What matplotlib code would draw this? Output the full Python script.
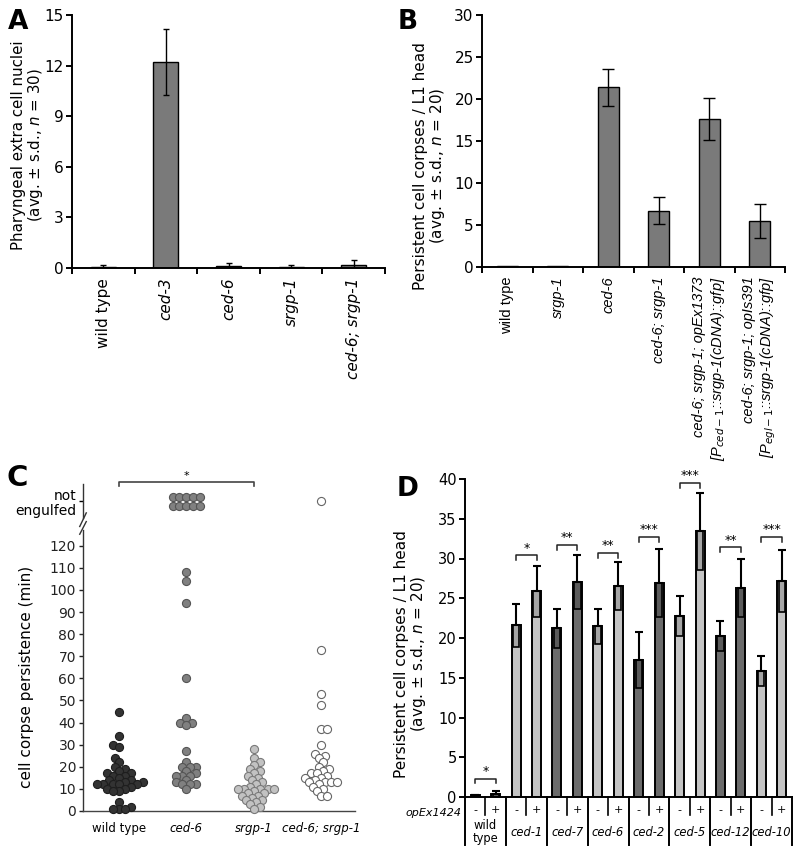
import matplotlib
matplotlib.use("Agg")
import matplotlib.pyplot as plt
import matplotlib.transforms as mtransforms
from matplotlib.patches import Rectangle
import numpy as np

W, H = 800, 856

# ---- panel A data
a_labels = ["wild type", "ced-3", "ced-6", "srgp-1", "ced-6; srgp-1"]
a_means = [0.05, 12.2, 0.1, 0.05, 0.17]
a_sd = [0.15, 1.95, 0.2, 0.15, 0.33]

# ---- panel B data
b_labels = ["wild type", "srgp-1", "ced-6", "ced-6; srgp-1",
            "ced-6; srgp-1; opEx1373\n[P$_{ced-1}$::srgp-1(cDNA)::gfp]",
            "ced-6; srgp-1; opIs391\n[P$_{egl-1}$::srgp-1(cDNA)::gfp]"]
b_means = [0.15, 0.15, 21.4, 6.7, 17.6, 5.5]
b_sd = [0.05, 0.05, 2.2, 1.6, 2.5, 2.0]

# ---- panel C data (minutes)
c_labels = ["wild type", "ced-6", "srgp-1", "ced-6; srgp-1"]
c_wt = [45, 34, 30, 29, 24, 22, 20, 19, 18, 17, 17, 16, 16, 15, 14, 14, 13, 13,
        12, 12, 12, 12, 12, 11, 10, 10, 9, 9, 4, 2, 1, 1, 1]
c_ced6 = [108, 104, 94, 60, 42, 40, 40, 39, 27, 22, 20, 20, 20, 18, 17, 16, 16,
          16, 14, 13, 12, 12, 12, 10]
c_srgp1 = [28, 24, 22, 21, 19, 18, 17, 16, 15, 14, 13, 12, 11, 10, 10, 10, 10,
           10, 9, 8, 8, 7, 7, 6, 5, 5, 4, 3, 2, 1]
c_double = [73, 53, 48, 37, 37, 30, 26, 25, 24, 22, 20, 19, 18, 17, 17, 16, 15,
            15, 14, 13, 13, 13, 13, 12, 11, 10, 9, 7, 7]
c_not_engulfed = [0, 10, 0, 1]
c_face = ["#333333", "#808080", "#c2c2c2", "white"]
c_edge = ["#1e1e1e", "#555555", "#7a7a7a", "#666666"]

# ---- panel D data
d_groups = ["wild\ntype", "ced-1", "ced-7", "ced-6", "ced-2", "ced-5", "ced-12", "ced-10"]
d_minus = [0.2, 21.6, 21.2, 21.5, 17.2, 22.8, 20.3, 15.8]
d_minus_sd = [0.1, 2.7, 2.5, 2.2, 3.5, 2.5, 1.9, 1.9]
d_plus = [0.4, 25.9, 27.0, 26.5, 26.9, 33.4, 26.3, 27.2]
d_plus_sd = [0.4, 3.2, 3.4, 3.0, 4.3, 4.8, 3.7, 3.9]
d_dark = [True, False, True, False, True, False, True, False]
d_sig = ["*", "*", "**", "**", "***", "***", "**", "***"]
d_sig_h = [2.3, 30.4, 31.7, 30.7, 32.7, 39.5, 31.4, 32.7]

LIGHT = "#c4c4c4"
DARK = "#6b6b6b"
BARGRAY = "#7a7a7a"


def rect(x0, y0, x1, y1):
    return [x0 / W, 1 - y1 / H, (x1 - x0) / W, (y1 - y0) / H]


def style_axes(ax, lw=1.4):
    for s in ["top", "right"]:
        ax.spines[s].set_visible(False)
    for s in ["left", "bottom"]:
        ax.spines[s].set_linewidth(lw)


fig = plt.figure(figsize=(8, 8.56), dpi=100)
fig.patch.set_facecolor("white")

# ================= A =================
axA = fig.add_axes(rect(72, 15, 385, 268))
style_axes(axA)
xa = np.arange(len(a_labels))
axA.bar(xa, a_means, width=0.4, color=BARGRAY, edgecolor="black", linewidth=1)
axA.errorbar(xa, a_means, yerr=a_sd, fmt="none", ecolor="black", elinewidth=1,
             capsize=2.5, capthick=1)
axA.set_xlim(-0.5, len(a_labels) - 0.5)
axA.set_ylim(0, 15)
axA.set_yticks(np.arange(0, 16, 3))
axA.set_xticks(np.arange(-0.5, len(a_labels), 1))
axA.set_xticklabels([])
axA.set_xticks(xa, minor=True)
axA.set_xticklabels(a_labels, minor=True, rotation=90, va="top", ha="center",
                    fontsize=11)
for i, t in enumerate(axA.get_xticklabels(minor=True)):
    if i > 0:
        t.set_fontstyle("italic")
axA.tick_params(axis="x", which="major", direction="out", length=4, width=1.4)
axA.tick_params(axis="x", which="minor", length=0, pad=7)
axA.tick_params(axis="y", direction="out", length=4, width=1.4, labelsize=11, pad=2)
fig.text(28 / W, 1 - 145 / H,
         "Pharyngeal extra cell nuclei\n(avg. ± s.d., $\\it{n}$ = 30)",
         rotation=90, ha="center", va="center", fontsize=10.8, ma="center",
         linespacing=1.05)

# ================= B =================
axB = fig.add_axes(rect(482, 15, 785, 267))
style_axes(axB)
xb = np.arange(len(b_labels))
axB.bar(xb, b_means, width=0.42, color=BARGRAY, edgecolor="black", linewidth=1)
axB.errorbar(xb[2:], b_means[2:], yerr=b_sd[2:], fmt="none", ecolor="black",
             elinewidth=1, capsize=4.5, capthick=1)
axB.set_xlim(-0.5, len(b_labels) - 0.5)
axB.set_ylim(0, 30)
axB.set_yticks(np.arange(0, 31, 5))
axB.set_xticks(np.arange(-0.5, len(b_labels), 1))
axB.set_xticklabels([])
axB.set_xticks(xb, minor=True)
axB.set_xticklabels(b_labels, minor=True, rotation=90, va="top", ha="center",
                    fontsize=10.5, family="Liberation Sans", multialignment="right")
for i, t in enumerate(axB.get_xticklabels(minor=True)):
    if i > 0:
        t.set_fontstyle("italic")
axB.tick_params(axis="x", which="major", direction="out", length=4, width=1.4)
axB.tick_params(axis="x", which="minor", length=0, pad=7)
axB.tick_params(axis="y", direction="out", length=4, width=1.4, labelsize=11, pad=2)
fig.text(430 / W, 1 - 166 / H,
         "Persistent cell corpses / L1 head\n(avg. ± s.d., $\\it{n}$ = 20)",
         rotation=90, ha="center", va="center", fontsize=11, ma="center",
         linespacing=1.05)

# ================= C =================
axC = fig.add_axes(rect(83, 530, 355, 811))
axCt = fig.add_axes(rect(83, 484, 355, 518))
c_top = 127.1
px_y = 281 / c_top
px_x = 272 / 4.03
diam = 8.0


def swarm_offsets(vals):
    vals = np.asarray(vals, dtype=float)
    order = np.argsort(vals)
    placed = []
    offs = np.zeros(len(vals))
    step = diam * 0.25
    for n, i in enumerate(order):
        y = vals[i] * px_y
        k = 0
        found = None
        while found is None:
            if k == 0:
                cands = [0.0]
            elif n % 2:
                cands = [k * step, -k * step]
            else:
                cands = [-k * step, k * step]
            for c in cands:
                if all((c - px) ** 2 + (y - py) ** 2 >= (0.62 * diam) ** 2
                       for px, py in placed):
                    found = c
                    break
            k += 1
        placed.append((found, y))
        offs[i] = found
    return offs / px_x


c_series = [c_wt, c_ced6, c_srgp1, c_double]
for g, vals in enumerate(c_series):
    off = swarm_offsets(vals)
    axC.scatter(g + off, vals, s=34, facecolor=c_face[g], edgecolor=c_edge[g],
                linewidth=0.8, zorder=3, clip_on=False)
    # not engulfed rows of five
    n = c_not_engulfed[g]
    if n == 1:
        axCt.scatter([g], [0.5], s=34, facecolor=c_face[g], edgecolor=c_edge[g],
                     linewidth=0.8, clip_on=False)
    elif n > 1:
        cols = np.arange(n) % 5
        rows = np.arange(n) // 5
        xs = g + (cols - 2) * diam * 0.85 / px_x
        ys = 0.62 - rows * 0.27
        axCt.scatter(xs, ys, s=34, facecolor=c_face[g], edgecolor=c_edge[g],
                     linewidth=0.8, clip_on=False)

for ax in (axC, axCt):
    ax.set_xlim(-0.53, 3.5)
    for s in ["top", "right"]:
        ax.spines[s].set_visible(False)
    ax.spines["left"].set_color("#333333")
    ax.spines["left"].set_linewidth(1.0)
axC.spines["bottom"].set_color("#444444")
axC.spines["bottom"].set_linewidth(1.0)
axCt.spines["bottom"].set_visible(False)
axC.set_ylim(0, c_top)
axC.set_yticks(np.arange(0, 121, 10))
axC.tick_params(axis="y", direction="out", length=3, width=1, labelsize=10,
                pad=2, colors="#222222")
axC.set_xticks(range(4))
axC.set_xticklabels(c_labels, fontsize=8.5)
for i, t in enumerate(axC.get_xticklabels()):
    if i > 0:
        t.set_fontstyle("italic")
axC.tick_params(axis="x", length=0, pad=8)
axCt.set_ylim(0, 1)
axCt.set_xticks([])
axCt.set_yticks([0.5])
axCt.set_yticklabels(["not\nengulfed"], fontsize=10, multialignment="right",
                     linespacing=1.1)
axCt.tick_params(axis="y", direction="out", length=3, width=1, pad=2)

# break marks
kw = dict(color="#333333", lw=1, clip_on=False)
axCt.plot([-0.012, 0.012], [-0.25, 0.15], transform=axCt.transAxes, **kw)
axC.plot([-0.012, 0.012], [0.985, 1.03], transform=axC.transAxes, **kw)

# significance bracket
trC = mtransforms.blended_transform_factory(axCt.transData, axCt.transAxes)
axCt.plot([0, 0, 2, 2], [0.94, 1.06, 1.06, 0.94], color="#444444", lw=1.2,
          transform=trC, clip_on=False)
axCt.text(1, 1.08, "*", transform=trC, ha="center", va="bottom", fontsize=8)
fig.text(27 / W, 1 - 677 / H, "cell corpse persistence (min)", rotation=90,
         ha="center", va="center", fontsize=11)

# ================= D =================
axD = fig.add_axes(rect(465, 479, 792, 797))
style_axes(axD)
ng = len(d_groups)
xg = np.arange(ng)
bw = 0.22
for i in range(ng):
    col = DARK if d_dark[i] else LIGHT
    for x, m, sd in ((i - 0.25, d_minus[i], d_minus_sd[i]),
                     (i + 0.25, d_plus[i], d_plus_sd[i])):
        axD.bar(x, m, width=bw, color=col, edgecolor="black", linewidth=1.4, zorder=2)
        axD.add_patch(Rectangle((x - bw * 0.35, m - sd), bw * 0.7, sd,
                                facecolor=(0, 0, 0, 0.15), edgecolor="black",
                                linewidth=1.2, zorder=3))
        axD.errorbar([x], [m], yerr=[[0], [sd]], fmt="none", ecolor="black",
                     elinewidth=1.5, capsize=3, capthick=1.5, zorder=4)
    h = d_sig_h[i]
    axD.plot([i - 0.25, i - 0.25, i + 0.25, i + 0.25], [h - 0.6, h, h, h - 0.6],
             color="#222222", lw=1.1, zorder=4)
    axD.text(i, h + 0.1, d_sig[i], ha="center", va="bottom", fontsize=9)

axD.set_xlim(-0.5, ng - 0.5)
axD.set_ylim(0, 40)
axD.set_yticks(np.arange(0, 41, 5))
axD.set_xticks([])
axD.tick_params(axis="y", direction="out", length=4, width=1.4, labelsize=10.5, pad=2)

trD = mtransforms.blended_transform_factory(axD.transData, axD.transAxes)
y_long = -48 / 318
y_short = -18 / 318
for b in np.arange(-0.5, ng, 1):
    axD.plot([b, b], [0, y_long], color="black", lw=1.4, transform=trD, clip_on=False)
for i in range(ng):
    axD.plot([i, i], [0, y_short], color="black", lw=1.2, transform=trD, clip_on=False)
    axD.text(i - 0.25, -13 / 318, "-", transform=trD, ha="center", va="center",
             fontsize=8)
    axD.text(i + 0.25, -13 / 318, "+", transform=trD, ha="center", va="center",
             fontsize=8)
    axD.text(i, -35 / 318, d_groups[i], transform=trD, ha="center", va="center",
             fontsize=8.3, style="normal" if i == 0 else "italic",
             linespacing=1.0)
axD.text(-0.58, -16 / 318, "opEx1424", transform=trD, ha="right", va="center",
         fontsize=8, style="italic")
fig.text(411 / W, 1 - 654 / H,
         "Persistent cell corpses / L1 head\n(avg. ± s.d., $\\it{n}$ = 20)",
         rotation=90, ha="center", va="center", fontsize=11, ma="center",
         linespacing=1.05)

# panel letters
for lab, x, y, fs in (("A", 18, 22, 19), ("B", 408, 22, 19),
                      ("C", 17, 478, 21), ("D", 408, 489, 19)):
    fig.text(x / W, 1 - y / H, lab, fontsize=fs, fontweight="bold",
             ha="center", va="center")

fig.savefig("out.png", dpi=100, facecolor="white")
